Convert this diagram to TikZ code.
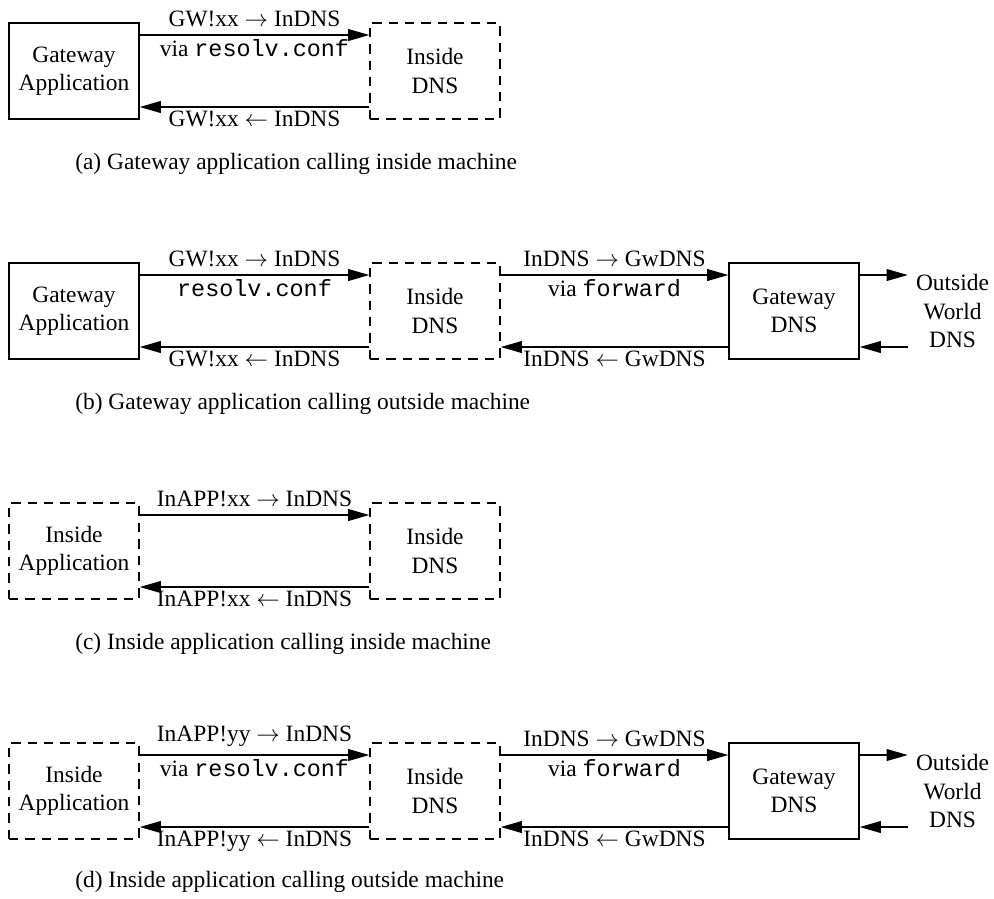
\documentclass[tikz,border=0pt]{standalone}
\usepackage{fontspec}
\setmainfont{Liberation Serif}
\setmonofont{Liberation Mono}
\usetikzlibrary{arrows.meta,positioning,calc}

\begin{document}
\begin{tikzpicture}[x=1.5mm,y=-1.5mm,
    box/.style={draw,line width=0.6pt,minimum width=19.5mm,minimum height=14.4mm,
                align=center,inner sep=1pt},
    dbox/.style={box,dash pattern=on 4pt off 3pt},
    flow/.style={-{Triangle[length=9pt,width=5pt]},line width=0.6pt},
    lbl/.style={midway,below,inner sep=1.6pt},
    capt/.style={anchor=west}]
  \useasboundingbox (0,0) rectangle (99.4,89.8);
  % (a) gateway app -> inside machine
  \node[box]  (ga1) at (7.4,7.1)  {Gateway\\Application};
  \node[dbox] (id1) at (43.5,7.1) {Inside\\DNS};
  \draw[flow] ([yshift=5.4mm]ga1.east) -- ([yshift=5.4mm]id1.west)
      node[midway,above] {GW!xx $\rightarrow$ InDNS}
      node[lbl] {via \texttt{resolv.conf}};
  \draw[flow] ([yshift=-5.4mm]id1.west) -- ([yshift=-5.4mm]ga1.east)
      node[lbl] {GW!xx $\leftarrow$ InDNS};
  \node[capt] (capa) at (6.7,16.4) {(a) Gateway application calling inside machine};
  % (b) gateway app -> outside machine
  \node[box]  (ga2) at (7.4,31.1)  {Gateway\\Application};
  \node[dbox] (id2) at (43.5,31.1) {Inside\\DNS};
  \node[box]  (gd2) at (79.4,31.1) {Gateway\\DNS};
  \node[align=center] (ow2) at (95.25,31.1) {Outside\\World\\DNS};
  \draw[flow] ([yshift=5.4mm]ga2.east) -- ([yshift=5.4mm]id2.west)
      node[midway,above] {GW!xx $\rightarrow$ InDNS}
      node[lbl] {\texttt{resolv.conf}};
  \draw[flow] ([yshift=-5.4mm]id2.west) -- ([yshift=-5.4mm]ga2.east)
      node[lbl] {GW!xx $\leftarrow$ InDNS};
  \draw[flow] ([yshift=5.4mm]id2.east) -- ([yshift=5.4mm]gd2.west)
      node[midway,above] {InDNS $\rightarrow$ GwDNS}
      node[lbl] {via \texttt{forward}};
  \draw[flow] ([yshift=-5.4mm]gd2.west) -- ([yshift=-5.4mm]id2.east)
      node[lbl] {InDNS $\leftarrow$ GwDNS};
  \draw[flow] ([yshift=5.4mm]gd2.east) -- ([yshift=5.4mm]gd2.east -| ow2.west);
  \draw[flow] ([yshift=-5.4mm]gd2.east -| ow2.west) -- ([yshift=-5.4mm]gd2.east);
  \node[capt] (capb) at (6.7,40.4) {(b) Gateway application calling outside machine};
  % (c) inside app -> inside machine
  \node[dbox] (ia3) at (7.4,55.1)  {Inside\\Application};
  \node[dbox] (id3) at (43.5,55.1) {Inside\\DNS};
  \draw[flow] ([yshift=5.4mm]ia3.east) -- ([yshift=5.4mm]id3.west)
      node[midway,above] {InAPP!xx $\rightarrow$ InDNS};
  \draw[flow] ([yshift=-5.4mm]id3.west) -- ([yshift=-5.4mm]ia3.east)
      node[lbl] {InAPP!xx $\leftarrow$ InDNS};
  \node[capt] (capc) at (6.7,64.4) {(c) Inside application calling inside machine};
  % (d) inside app -> outside machine
  \node[dbox] (ia4) at (7.4,79.1)  {Inside\\Application};
  \node[dbox] (id4) at (43.5,79.1) {Inside\\DNS};
  \node[box]  (gd4) at (79.4,79.1) {Gateway\\DNS};
  \node[align=center] (ow4) at (95.25,79.1) {Outside\\World\\DNS};
  \draw[flow] ([yshift=5.4mm]ia4.east) -- ([yshift=5.4mm]id4.west)
      node[midway,above] {InAPP!yy $\rightarrow$ InDNS}
      node[lbl] {via \texttt{resolv.conf}};
  \draw[flow] ([yshift=-5.4mm]id4.west) -- ([yshift=-5.4mm]ia4.east)
      node[lbl] {InAPP!yy $\leftarrow$ InDNS};
  \draw[flow] ([yshift=5.4mm]id4.east) -- ([yshift=5.4mm]gd4.west)
      node[midway,above] {InDNS $\rightarrow$ GwDNS}
      node[lbl] {via \texttt{forward}};
  \draw[flow] ([yshift=-5.4mm]gd4.west) -- ([yshift=-5.4mm]id4.east)
      node[lbl] {InDNS $\leftarrow$ GwDNS};
  \draw[flow] ([yshift=5.4mm]gd4.east) -- ([yshift=5.4mm]gd4.east -| ow4.west);
  \draw[flow] ([yshift=-5.4mm]gd4.east -| ow4.west) -- ([yshift=-5.4mm]gd4.east);
  \node[capt] (capd) at (6.7,88.2) {(d) Inside application calling outside machine};
\end{tikzpicture}
\end{document}
